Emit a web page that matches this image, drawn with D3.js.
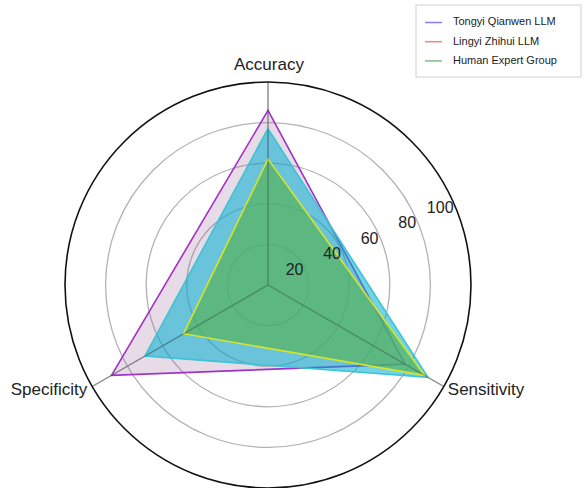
<!DOCTYPE html>
<html>
<head>
<meta charset="utf-8">
<script src="https://cdn.jsdelivr.net/npm/d3@7"></script>
<style>
  body { margin: 0; background: #fff; }
  text { font-family: "Liberation Sans", Arial, Helvetica, sans-serif; fill: #222; }
</style>
</head>
<body>
<svg id="chart" width="584" height="488"></svg>
<script>
// chart values
var axesNames = ["Accuracy", "Sensitivity", "Specificity"];
var tongyi = [86, 78, 89];
var lingyi = [77, 91, 70];
var human = [62, 89, 48];
var rTicks = [20, 40, 60, 80, 100];
var seriesNames = ["Tongyi Qianwen LLM", "Lingyi Zhihui LLM", "Human Expert Group"];

var cx = 268, cy = 285, R = 203;
var svg = d3.select("#chart");

var r = d3.scaleLinear().domain([0, 100]).range([0, R]);
var ang = d3.scalePoint().domain(axesNames).range([0, 240]); // degrees, clockwise from top

function pt(name, v) {
  var a = ang(name) * Math.PI / 180;
  return [cx + r(v) * Math.sin(a), cy - r(v) * Math.cos(a)];
}

var g = svg.append("g");

// ring grid
g.selectAll("circle.ring").data(rTicks.slice(0, -1)).enter().append("circle")
  .attr("class", "ring")
  .attr("cx", cx).attr("cy", cy)
  .attr("r", function(d) { return r(d); })
  .attr("fill", "none").attr("stroke", "#b3b3b3").attr("stroke-width", 1.3);

// spokes
g.selectAll("line.spoke").data(axesNames).enter().append("line")
  .attr("class", "spoke")
  .attr("x1", cx).attr("y1", cy)
  .attr("x2", function(d) { return pt(d, 100)[0]; })
  .attr("y2", function(d) { return pt(d, 100)[1]; })
  .attr("stroke", "#b3b3b3").attr("stroke-width", 1.3);

// polygons
var series = [
  {vals: tongyi, fill: "rgba(150,90,150,0.22)", stroke: "#a030c8"},
  {vals: lingyi, fill: "rgba(0,175,205,0.55)", stroke: "#3cc4d4"},
  {vals: human, fill: "rgba(85,178,85,0.68)", stroke: "#d8e428"}
];
var line = d3.line();
g.selectAll("path.area").data(series).enter().append("path")
  .attr("class", "area")
  .attr("d", function(s) {
    return line(axesNames.map(function(n, i) { return pt(n, s.vals[i]); })) + "Z";
  })
  .attr("fill", function(s) { return s.fill; })
  .attr("stroke", function(s) { return s.stroke; })
  .attr("stroke-width", 1.6)
  .attr("stroke-linejoin", "miter");

// spokes again faintly over the fills
g.selectAll("line.spoke2").data(axesNames).enter().append("line")
  .attr("x1", cx).attr("y1", cy)
  .attr("x2", function(d) { return pt(d, 100)[0]; })
  .attr("y2", function(d) { return pt(d, 100)[1]; })
  .attr("stroke", "rgba(60,60,60,0.35)").attr("stroke-width", 1.3);

// outer ring
g.append("circle").attr("cx", cx).attr("cy", cy).attr("r", r(100))
  .attr("fill", "none").attr("stroke", "#111").attr("stroke-width", 1.6);

// r tick labels at 22.5 degrees
var la = 67.5 * Math.PI / 180;
g.selectAll("text.rt").data(rTicks).enter().append("text")
  .attr("class", "rt")
  .attr("x", function(d) { return cx + r(d) * Math.sin(la) - 2; })
  .attr("y", function(d) { return cy - r(d) * Math.cos(la) + 1; })
  .attr("text-anchor", "end")
  .attr("dominant-baseline", "middle")
  .attr("font-size", 16)
  .text(function(d) { return d; });

// axis labels
var labPos = {
  "Accuracy": {dx: 1, dy: -16, anchor: "middle"},
  "Sensitivity": {dx: 4, dy: 4, anchor: "start"},
  "Specificity": {dx: -5, dy: 4, anchor: "end"}
};
g.selectAll("text.ax").data(axesNames).enter().append("text")
  .attr("class", "ax")
  .attr("x", function(d) { return pt(d, 100)[0] + labPos[d].dx; })
  .attr("y", function(d) { return pt(d, 100)[1] + labPos[d].dy; })
  .attr("text-anchor", function(d) { return labPos[d].anchor; })
  .attr("dominant-baseline", "middle")
  .attr("font-size", 17)
  .text(function(d) { return d; });

// legend
var legColors = ["rgba(0,0,255,0.5)", "rgba(255,0,0,0.5)", "rgba(0,128,0,0.5)"];
var leg = svg.append("g").attr("transform", "translate(416,5)");
leg.append("rect").attr("width", 165).attr("height", 72)
  .attr("fill", "#fff").attr("stroke", "#d0d0d0").attr("stroke-width", 1);
var items = leg.selectAll("g.item").data(seriesNames).enter().append("g")
  .attr("transform", function(d, i) { return "translate(0," + (17.5 + i * 19.2) + ")"; });
items.append("line").attr("x1", 9).attr("x2", 26)
  .attr("stroke", function(d, i) { return legColors[i]; }).attr("stroke-width", 1.5);
items.append("text").attr("x", 37).attr("dominant-baseline", "middle")
  .attr("font-size", 11).text(function(d) { return d; });
</script>
</body>
</html>
